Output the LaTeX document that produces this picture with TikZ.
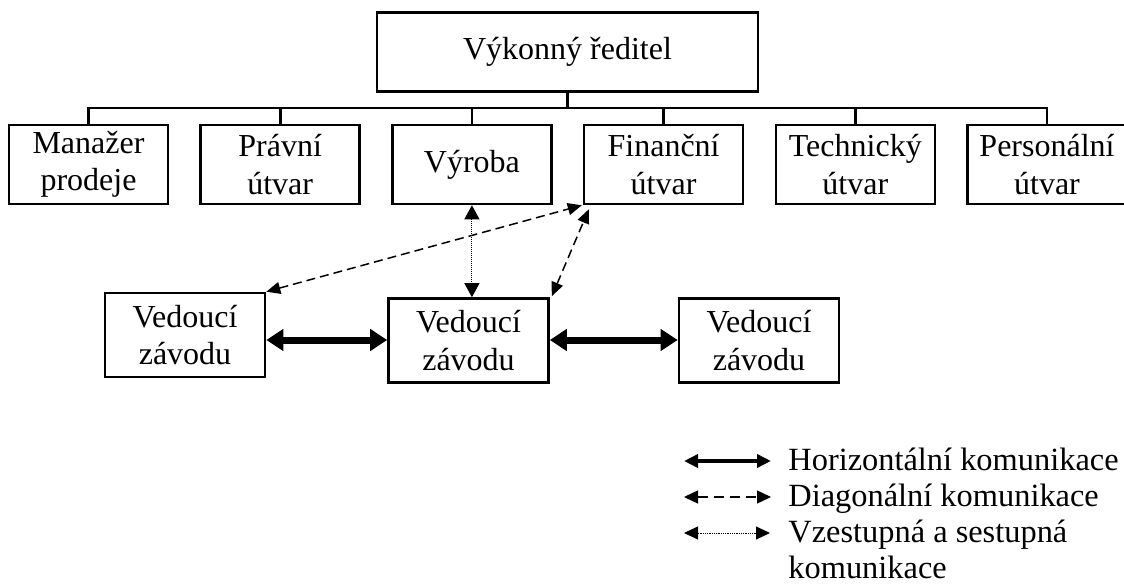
\documentclass[tikz,border=0pt]{standalone}
\usepackage{fontspec}
\setmainfont{Liberation Serif}
\usetikzlibrary{arrows.meta}
\begin{document}
\begin{tikzpicture}[x=0.5pt,y=-0.5pt,
  box/.style={draw,line width=1.3pt,inner sep=0pt,align=center,
    font=\fontsize{16}{18.6}\selectfont},
  unit/.style={box,minimum width=79.5pt,minimum height=39.5pt},
  plant/.style={box,minimum width=80pt,minimum height=42pt},
  tree/.style={line width=1.3pt},
  horiz/.style={line width=3.5pt,{Triangle[length=8.5pt,width=10.5pt]}-{Triangle[length=8.5pt,width=10.5pt]}},
  diag/.style={line width=0.75pt,dash pattern=on 4.5pt off 2.5pt,{Triangle[length=7pt,width=6pt]}-{Triangle[length=7pt,width=6pt]}},
  vert/.style={line width=0.5pt,dash pattern=on 0.4pt off 0.6pt,{Triangle[length=7pt,width=7.5pt]}-{Triangle[length=7pt,width=7.5pt]}},
  lhoriz/.style={line width=2pt,{Triangle[length=7pt,width=6.5pt]}-{Triangle[length=7pt,width=6.5pt]}},
  ldiag/.style={line width=0.7pt,dash pattern=on 5pt off 3pt,{Triangle[length=7pt,width=6.5pt]}-{Triangle[length=7pt,width=6.5pt]}},
  lvert/.style={line width=0.5pt,dash pattern=on 0.4pt off 0.5pt,{Triangle[length=7pt,width=6.5pt]}-{Triangle[length=7pt,width=6.5pt]}},
  legtext/.style={anchor=base west,inner sep=0pt,font=\fontsize{16.2}{18.6}\selectfont}]
\useasboundingbox (0,0) rectangle (1124,588);

% top
\node[box,minimum width=190.5pt,minimum height=39.5pt] (ceo) at (567.5,52.3) {Výkonný ředitel};

% second row
\node[unit] (b1) at (88.5,164.5) {Manažer\\prodeje};
\node[unit] (b2) at (280.2,164.5) {Právní\\útvar};
\node[unit] (b3) at (471.9,164.5) {Výroba};
\node[unit] (b4) at (663.6,164.5) {Finanční\\útvar};
\node[unit] (b5) at (855.3,164.5) {Technický\\útvar};
\node[unit] (b6) at (1047,164.5) {Personální\\útvar};

% tree connectors
\coordinate (bus) at (567.5,108);
\draw[tree] (ceo.south) -- (bus);
\draw[tree] (b1.north) -- (b1.north |- bus) -- (b6.north |- bus) -- (b6.north);
\foreach \b in {b2,b3,b4,b5} \draw[tree] (\b.north) -- (\b.north |- bus);

% plant managers
\node[plant] (vL) at (185,335) {Vedoucí\\závodu};
\node[plant] (vM) at (468.5,340.5) {Vedoucí\\závodu};
\node[plant] (vR) at (759,340.5) {Vedoucí\\závodu};

% communication
\coordinate (hy) at (0,340);
\draw[horiz] (vL.east |- hy) -- (vM.west |- hy);
\draw[horiz] (vM.east |- hy) -- (vR.west |- hy);
\draw[vert] (b3.south) -- (b3.south |- vM.north);
\draw[diag] (vL.north east) -- ([shift={(-1,0)}]b4.south west);
\draw[diag] ([shift={(2,-1)}]vM.north east) -- ([shift={(6,4)}]b4.south west);

% legend
\coordinate (l1a) at (684,461);
\coordinate (l1b) at (771,461);
\coordinate (l2a) at (684,497);
\coordinate (l2b) at (771,497);
\coordinate (l3a) at (684,533);
\coordinate (l3b) at (770,533);
\draw[lhoriz] (l1a) -- (l1b);
\draw[ldiag] (l2a) -- (l2b);
\draw[lvert] (l3a) -- (l3b);
\node[legtext] (t1) at (788,470) {Horizontální komunikace};
\node[legtext] (t2) at (788,506) {Diagonální komunikace};
\node[legtext] (t3) at (788,542) {Vzestupná a sestupná};
\node[legtext] (t4) at (788,578) {komunikace};
\end{tikzpicture}
\end{document}
